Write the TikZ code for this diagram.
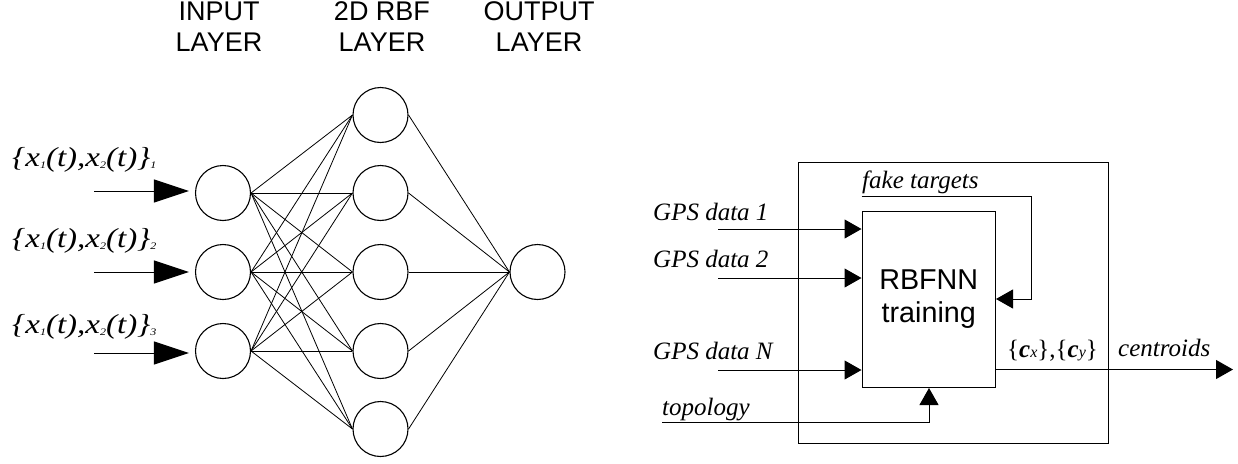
\documentclass[tikz,border=0pt]{standalone}
\usepackage{fontspec}
\setmainfont{Liberation Serif}
\setsansfont{Liberation Sans}
\usetikzlibrary{arrows.meta,calc}
\newcommand{\subsm}[1]{\raisebox{-2pt}{\fontsize{10}{10}\selectfont #1}}
\newcommand{\inlabtext}[1]{\scalebox{1.2}[1]{\{x\subsm{1}(t),x\subsm{2}(t)\}\subsm{#1}}}
\begin{document}
\begin{tikzpicture}[x=1pt,y=-1pt,
  neuron/.style={circle, draw, line width=1.1pt, minimum size=55pt, inner sep=0pt},
  link/.style={line width=0.8pt},
  bigarrow/.style={line width=1pt, -{Triangle[length=35pt,width=23pt]}},
  smallarrow/.style={line width=1pt, -{Triangle[length=17pt,width=19pt]}},
  serifit/.style={font=\fontsize{25}{28}\selectfont\itshape, inner sep=0pt},
  inlab/.style={font=\fontsize{27.5}{30}\selectfont\itshape, inner sep=0pt},
  layerlab/.style={font=\sffamily\fontsize{27}{31}\selectfont, align=center, inner sep=0pt},
  boxstyle/.style={draw, line width=1pt, inner sep=0pt}
]
\useasboundingbox (0,0) rectangle (1238,463);

% layer titles (base anchor = baseline of last line)
\node[layerlab, anchor=base] (tin) at (219,51.7) {INPUT\\LAYER};
\node[layerlab, anchor=base] (trbf) at (382,51.7) {2D RBF\\LAYER};
\node[layerlab, anchor=base] (tout) at (539,51.7) {OUTPUT\\LAYER};

% neurons
\node[neuron] (i1) at (223,193) {};
\node[neuron] (i2) at (223,272) {};
\node[neuron] (i3) at (223,351) {};
\node[neuron] (h1) at (380.5,115) {};
\node[neuron] (h2) at (380.5,193) {};
\node[neuron] (h3) at (380.5,272) {};
\node[neuron] (h4) at (380.5,351) {};
\node[neuron] (h5) at (380.5,429) {};
\node[neuron] (o) at (537.5,272) {};

\foreach \i in {1,2,3}{
  \foreach \j in {1,...,5}{
    \draw[link] (i\i.east) -- (h\j.west);
  }
}
\foreach \j in {1,...,5}{
  \draw[link] (h\j.east) -- (o.west);
}

% input labels and arrows
\node[inlab, anchor=base west] (l1) at (12,166) {\inlabtext{1}};
\node[inlab, anchor=base west] (l2) at (12,247) {\inlabtext{2}};
\node[inlab, anchor=base west] (l3) at (12,333) {\inlabtext{3}};
\coordinate (a1) at (94,191);
\coordinate (a2) at (94,272);
\coordinate (a3) at (94,353);
\draw[bigarrow, shorten >=6pt] (a1) -- (a1 -| i1.west);
\draw[bigarrow, shorten >=6pt] (a2) -- (a2 -| i2.west);
\draw[bigarrow, shorten >=6pt] (a3) -- (a3 -| i3.west);

% right diagram
\node[boxstyle, anchor=north west, minimum width=310.3pt, minimum height=281.3pt] (outer) at (797.7,162) {};
\node[boxstyle, anchor=north west, minimum width=133.5pt, minimum height=176.3pt,
      font=\sffamily\fontsize{28.7}{33.3}\selectfont, align=center] (rbf) at (861.5,210.7) {RBFNN\\training};

\node[serifit, anchor=base west] (g1lab) at (653,220) {GPS data 1};
\node[serifit, anchor=base west] (g2lab) at (653,267) {GPS data 2};
\node[serifit, anchor=base west] (gnlab) at (653,359) {GPS data N};
\node[serifit, anchor=base west] (toplab) at (662,415) {topology};
\node[serifit, anchor=base west] (fklab) at (862,188) {fake targets};
\node[serifit, anchor=base west] (cclab) at (1007,357) {\upshape\{\textbf{\textit{c}}{\fontsize{16}{16}\selectfont\textit{x}}\},\{\textbf{\textit{c}}{\fontsize{16}{16}\selectfont\textit{y}}\}};
\node[serifit, anchor=base west] (cnlab) at (1118,356) {centroids};

\coordinate (g1s) at (718,229);
\coordinate (g2s) at (718,278);
\coordinate (gns) at (718,370);
\draw[smallarrow] (g1s) -- (g1s -| rbf.west);
\draw[smallarrow] (g2s) -- (g2s -| rbf.west);
\draw[smallarrow] (gns) -- (gns -| rbf.west);

\coordinate (fbs) at (861.5,196);
\coordinate (fbc) at (1031,196);
\coordinate (fbe) at (1000,299);
\draw[smallarrow] (fbs) -- (fbc) |- (fbe -| rbf.east);

\coordinate (tps) at (662,422.3);
\coordinate (tpx) at (929,0);
\draw[smallarrow] (tps) -| (tpx |- rbf.south);

\coordinate (oy) at (0,369.5);
\coordinate (oend) at (1233,369.5);
\draw[smallarrow] (rbf.east |- oy) -- (oend);
\end{tikzpicture}
\end{document}
